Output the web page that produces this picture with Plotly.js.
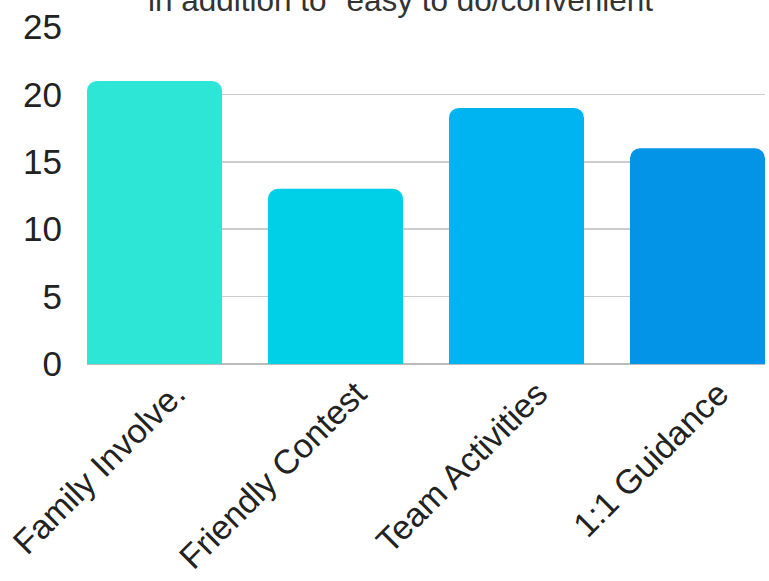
<!DOCTYPE html>
<html>
<head>
<meta charset="utf-8">
<script src="https://cdn.plot.ly/plotly-3.0.1.min.js"></script>
<style>html,body{margin:0;padding:0;background:#fff;}#chart{width:769px;height:581px;}</style>
</head>
<body>
<div id="chart"></div>
<script>
const titleText = 'in addition to "easy to do/convenient"';
const categories = ['Family Involve.', 'Friendly Contest', 'Team Activities', '1:1 Guidance'];
const values = [21, 13, 19, 16];
const barColors = ['#2EE6D6', '#00CFE8', '#00B4F2', '#0394E8'];
const yTicks = [0, 5, 10, 15, 20, 25];

const trace = {
  type: 'bar',
  x: categories,
  y: values,
  marker: { color: barColors, cornerradius: 10 },
  hoverinfo: 'none'
};

const layout = {
  width: 769,
  height: 581,
  margin: { l: 87, r: 4, t: 27, b: 217 },
  paper_bgcolor: '#fff',
  plot_bgcolor: '#fff',
  font: { family: 'Liberation Sans, Arial, sans-serif', color: '#222', size: 28 },
  title: {
    text: titleText,
    font: { size: 31.5, color: '#333' },
    x: 0.528, xanchor: 'center',
    y: 1, yref: 'container', yanchor: 'middle'
  },
  bargap: 0.254,
  showlegend: false,
  xaxis: {
    type: 'category',
    range: [-0.373, 3.373],
    tickangle: -45,
    showgrid: false,
    zeroline: false,
    showline: false,
    ticks: '',
    ticklabelshift: 21,
    ticklabelstandoff: 2,
    tickfont: { size: 34, color: '#222' }
  },
  yaxis: {
    range: [0, 25],
    tickvals: yTicks,
    ticktext: yTicks.map(String),
    showgrid: true,
    gridcolor: '#cccccc',
    gridwidth: 1.5,
    zeroline: true,
    zerolinecolor: '#bbbbbb',
    zerolinewidth: 2,
    ticks: '',
    ticklabelstandoff: 24,
    tickfont: { size: 35, color: '#222' }
  }
};

Plotly.newPlot('chart', [trace], layout, { staticPlot: true, displayModeBar: false });
</script>
</body>
</html>
